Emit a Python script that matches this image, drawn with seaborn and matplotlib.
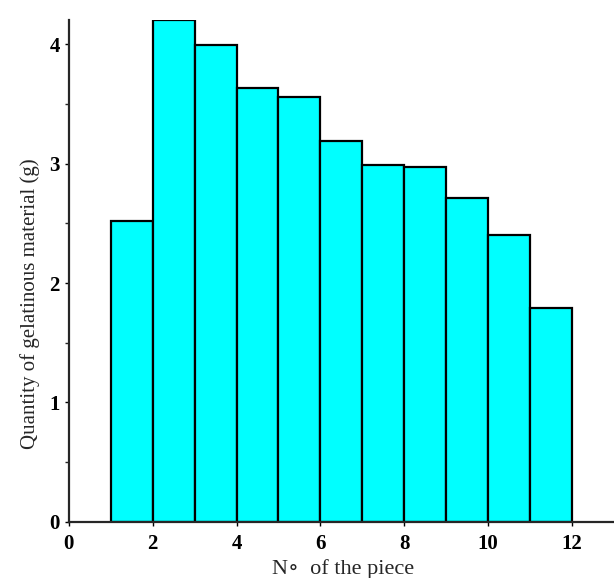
import numpy as np
import pandas as pd
import matplotlib
matplotlib.use('Agg')
import matplotlib.pyplot as plt
from matplotlib.ticker import MultipleLocator
import seaborn as sns

# piece number (left edge of each 1-wide bin) and gelatinous material (g)
pieces = [1, 2, 3, 4, 5, 6, 7, 8, 9, 10, 11]
quantity = [2.52, 4.20, 3.99, 3.63, 3.56, 3.19, 2.99, 2.97, 2.71, 2.40, 1.79]
bin_edges = list(range(1, 13))

df = pd.DataFrame({'piece': [p + 0.5 for p in pieces], 'quantity': quantity})

sns.set_style('ticks')
plt.rcParams['font.family'] = ['Liberation Serif', 'DejaVu Serif']

fig = plt.figure(figsize=(6.14, 5.78), dpi=100)
ax = fig.add_axes([0.112, 0.097, 0.888, 0.868])

sns.histplot(data=df, x='piece', weights='quantity', bins=bin_edges,
             color='#00ffff', edgecolor='black', linewidth=1.6, alpha=1, ax=ax)

ax.set_xlim(0, 13)
ax.set_ylim(0, 4.2)
ax.xaxis.set_major_locator(MultipleLocator(2))
ax.yaxis.set_major_locator(MultipleLocator(1))
ax.yaxis.set_minor_locator(MultipleLocator(0.5))
ax.tick_params(axis='both', which='major', direction='out', length=3, width=1,
               labelsize=15, colors='black')
ax.tick_params(axis='x', which='major', pad=6)
ax.tick_params(axis='y', which='minor', direction='out', length=3, width=1)
for lab in ax.get_xticklabels() + ax.get_yticklabels():
    lab.set_fontweight('bold')

sns.despine(ax=ax)
ax.spines['left'].set_linewidth(1.6)
ax.spines['bottom'].set_linewidth(1.6)

ax.set_xlabel('N\u2218  of the piece', fontsize=16)
ax.set_ylabel('Quantity of gelatinous material (g)', fontsize=15)
ax.xaxis.set_label_coords(0.503, -0.075)
ax.yaxis.set_label_coords(-0.053, 0.436)

fig.savefig('out.png', dpi=100)
